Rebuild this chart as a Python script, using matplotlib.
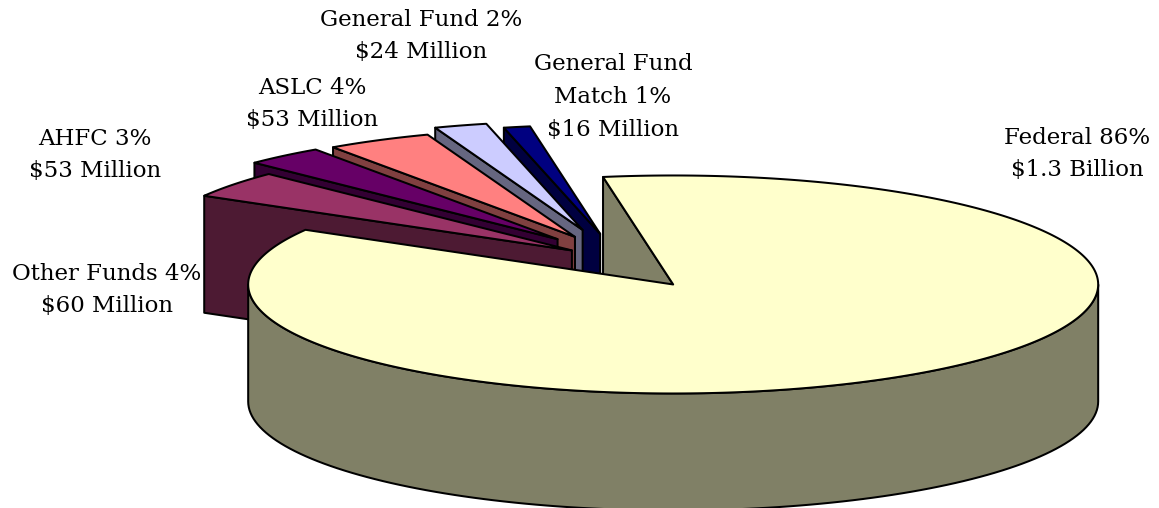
import numpy as np
import matplotlib
matplotlib.use("Agg")
import matplotlib.pyplot as plt
from matplotlib.patches import Polygon

# Funding sources, clockwise from the top of the pie
sources = ["Federal", "Other Funds", "AHFC", "ASLC", "General Fund", "General Fund\nMatch"]
shares = [86, 4, 3, 4, 2, 1]
amounts = ["$1.3 Billion", "$60 Million", "$53 Million", "$53 Million", "$24 Million", "$16 Million"]

top_colors = ["#FFFFCC", "#993366", "#660066", "#FF8080", "#CCCCFF", "#000080"]
side_colors = ["#808066", "#4D1A33", "#330033", "#804040", "#666680", "#000040"]
explode = [0.195, 0.16, 0.25, 0.26, 0.355, 0.31]
lift = [0, 6, 7, 5, 0, 0]

label_xy = [(1077, 154), (107, 290), (95, 155), (312, 104), (421, 36), (613, 97)]

# Pie geometry in figure pixels
CX, CY = 626, 267
RX, RY = 425, 109
DEPTH = 117
START = -9.5

fig = plt.figure(figsize=(11.59, 5.08), dpi=100)
ax = fig.add_axes([0, 0, 1, 1])
ax.set_xlim(0, 1159)
ax.set_ylim(508, 0)
ax.axis("off")

LW = 1.45


def point(ox, oy, deg):
    t = np.radians(deg)
    return ox + RX * np.sin(t), oy - RY * np.cos(t)


def add_poly(pts, color, z):
    ax.add_patch(Polygon(pts, closed=True, facecolor=color, edgecolor="black",
                         linewidth=LW, joinstyle="round", zorder=z))


# Wedge boundaries come directly from the shares
edges = START + np.concatenate([[0], np.cumsum(shares)]) * 3.6
wedges = []
for i in range(len(shares)):
    a0, a1 = edges[i], edges[i + 1]
    mid = np.radians((a0 + a1) / 2)
    ox = CX + explode[i] * RX * np.sin(mid)
    oy = CY - explode[i] * RY * np.cos(mid) - lift[i]
    wedges.append((a0, a1, ox, oy))

# Federal wedge: far cut face sits behind everything else
a0, a1, ox, oy = wedges[0]
sx, sy = point(ox, oy, a0)
add_poly([(ox, oy), (sx, sy), (sx, sy + DEPTH), (ox, oy + DEPTH)], side_colors[0], 1)

# Small exploded wedges, painted from the back towards the front
for i in range(len(shares) - 1, 0, -1):
    a0, a1, ox, oy = wedges[i]
    z = 2 + (len(shares) - i)
    px, py = point(ox, oy, a0)
    add_poly([(ox, oy), (px, py), (px, py + DEPTH), (ox, oy + DEPTH)], side_colors[i], z)
    arc = np.linspace(a0, a1, 20)
    xa, ya = point(ox, oy, arc)
    add_poly([(ox, oy)] + list(zip(xa, ya)), top_colors[i], z + 0.5)

# Federal wedge: front wall, then the top surface
a0, a1, ox, oy = wedges[0]
arc = np.linspace(90, 270, 120)
xa, ya = point(ox, oy, arc)
wall = list(zip(xa, ya)) + list(zip(xa[::-1], ya[::-1] + DEPTH))
add_poly(wall, side_colors[0], 20)
arc = np.linspace(a0, a1, 360)
xa, ya = point(ox, oy, arc)
add_poly([(ox, oy)] + list(zip(xa, ya)), top_colors[0], 21)

# Labels
for name, share, amount, (lx, ly) in zip(sources, shares, amounts, label_xy):
    ax.text(lx, ly, f"{name} {share}%\n{amount}", ha="center", va="center",
            fontsize=16.5, family="DejaVu Serif", color="black",
            linespacing=1.62, zorder=30)

fig.savefig("out.png", dpi=100, facecolor="white")
